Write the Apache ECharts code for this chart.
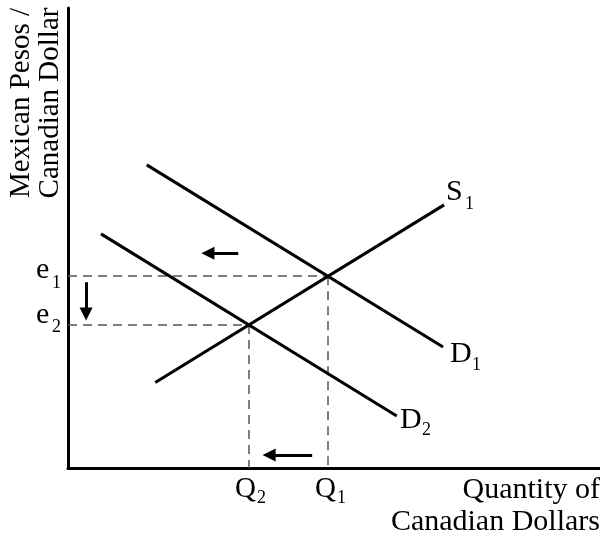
<!DOCTYPE html>
<html>
<head>
<meta charset="utf-8">
<script src="https://cdn.jsdelivr.net/npm/echarts@6/dist/echarts.min.js"></script>
<style>html,body{margin:0;padding:0;background:#fff;}#c{width:600px;height:537px;}</style>
</head>
<body>
<div id="c"></div>
<script>
// ---- data (chart units) ----
const xMax = 10, yMax = 10;
const supplyS1 = [[1.64, 1.86], [7.07, 5.72]];
const demandD1 = [[1.48, 6.59], [7.05, 2.63]];
const demandD2 = [[0.62, 5.09], [6.18, 1.13]];
const equilibrium1 = [4.89, 4.17]; // (Q1, e1)
const equilibrium2 = [3.40, 3.11]; // (Q2, e2)
const arrowTop = [[3.20, 4.67], [2.63, 4.67]];
const arrowDown = [[0.34, 4.04], [0.34, 3.35]];
const arrowBottom = [[4.59, 0.28], [3.78, 0.28]];
const curveLabels = ['S', 'D', 'D'];
const axisTitleX = ['Quantity of', 'Canadian Dollars'];
const axisTitleY = ['Mexican Pesos /', 'Canadian Dollar'];

const FONT = '"Liberation Serif", "Times New Roman", serif';
const chart = echarts.init(document.getElementById('c'), null, {renderer: 'canvas'});

function dashPath(p) {
  return [[[0, p[1]], [p[0], p[1]]], [[p[0], p[1]], [p[0], 0]]];
}
const dashed = dashPath(equilibrium1).concat(dashPath(equilibrium2)).map(c => ({coords: c}));

function txt(x, y, text, size, opts) {
  return Object.assign({
    type: 'text', x: x, y: y,
    style: Object.assign({text: text, font: size + 'px ' + FONT, fill: '#000',
      align: 'left', verticalAlign: 'middle'}, (opts && opts.style) || {})
  }, (opts && opts.el) || {});
}

const option = {
  animation: false,
  backgroundColor: '#fff',
  grid: {left: 68, right: 0, top: 8, bottom: 69},
  xAxis: {type: 'value', min: 0, max: xMax, axisLine: {lineStyle: {color: '#000', width: 3}},
    axisTick: {show: false}, axisLabel: {show: false}, splitLine: {show: false}},
  yAxis: {type: 'value', min: 0, max: yMax, axisLine: {show: true, lineStyle: {color: '#000', width: 3}},
    axisTick: {show: false}, axisLabel: {show: false}, splitLine: {show: false}},
  series: [
    {type: 'lines', coordinateSystem: 'cartesian2d', z: 1,
      lineStyle: {color: '#555', width: 1.5, type: [9, 6], opacity: 1},
      data: dashed},
    {type: 'line', data: supplyS1, symbol: 'none', lineStyle: {color: '#000', width: 3}, z: 3},
    {type: 'line', data: demandD1, symbol: 'none', lineStyle: {color: '#000', width: 3}, z: 3},
    {type: 'line', data: demandD2, symbol: 'none', lineStyle: {color: '#000', width: 3}, z: 3},
    {type: 'lines', coordinateSystem: 'cartesian2d', z: 4,
      symbol: ['none', 'triangle'], symbolSize: [11, 13],
      lineStyle: {color: '#000', width: 3, opacity: 1},
      data: [{coords: arrowTop}, {coords: arrowDown}, {coords: arrowBottom}]}
  ]
};
chart.setOption(option);

const big = 30, mid = 29, sub = 18;
const g = [];
// curve labels
g.push(txt(446, 192, curveLabels[0], big), txt(465, 204, '1', sub));
g.push(txt(450, 354, curveLabels[1], big), txt(472, 365, '1', sub));
g.push(txt(400, 420, curveLabels[2], big), txt(422, 430, '2', sub));
// e labels
g.push(txt(36, 270, 'e', big), txt(52, 283, '1', sub));
g.push(txt(36, 315, 'e', big), txt(52, 327, '2', sub));
// Q labels
g.push(txt(235, 489, 'Q', mid), txt(257, 498, '2', sub));
g.push(txt(315, 489, 'Q', mid), txt(337, 498, '1', sub));
// axis titles
g.push(txt(600, 490, axisTitleX[0], big, {style: {align: 'right'}}));
g.push(txt(600, 522, axisTitleX[1], big, {style: {align: 'right'}}));
g.push(txt(21, 103, axisTitleY[0], mid, {style: {align: 'center'}, el: {rotation: Math.PI / 2}}));
g.push(txt(50, 103, axisTitleY[1], mid, {style: {align: 'center'}, el: {rotation: Math.PI / 2}}));
chart.setOption({graphic: {elements: g}});
</script>
</body>
</html>
